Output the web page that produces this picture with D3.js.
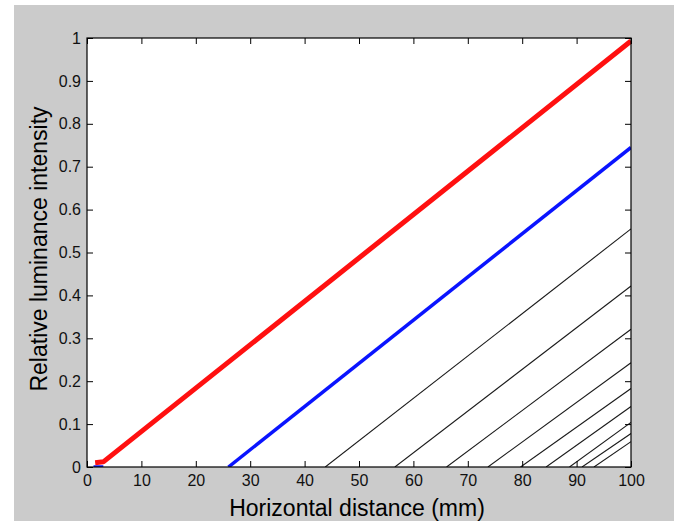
<!DOCTYPE html>
<html lang="en">
<head>
    <meta charset="UTF-8">
    <title>Relative luminance intensity</title>
    <script src="https://cdnjs.cloudflare.com/ajax/libs/d3/7.8.5/d3.min.js"></script>
    <style>
        body { margin: 0; background: #ffffff; }
        svg { display: block; }
        .tick text { font-family: Arial, "Liberation Sans", sans-serif; font-size: 16px; fill: #111; }
        .tick line { stroke: #000; }
        .title { font-family: Arial, "Liberation Sans", sans-serif; font-size: 23px; fill: #000; }
    </style>
</head>
<body>
    <svg id="chart" width="674" height="521"></svg>

    <script>
        // Chart data
        const xTicks = [0, 10, 20, 30, 40, 50, 60, 70, 80, 90, 100];
        const yTicks = [0, 0.1, 0.2, 0.3, 0.4, 0.5, 0.6, 0.7, 0.8, 0.9, 1];

        // red curve (x, y)
        const redX = [1.5, 3, 100];
        const redY = [0.01, 0.012, 0.993];

        // blue curve, plus the tiny stub at the origin
        const blueX = [26, 100];
        const blueY = [0, 0.745];
        const blueStubX = [1.2, 3];
        const blueStubY = [0, 0];

        // black lines: start on the x axis, end on the right edge
        const blackStartX = [43.8, 56.6, 66.1, 73.7, 79.7, 84.4, 88.7, 91.0, 93.2];
        const blackEndY = [0.555, 0.422, 0.321, 0.243, 0.183, 0.141, 0.104, 0.078, 0.059];

        const svg = d3.select("#chart");
        const margin = { left: 87, right: 43, top: 38, bottom: 54 };
        const width = 674 - margin.left - margin.right;
        const height = 521 - margin.top - margin.bottom;

        // figure background
        svg.append("rect")
            .attr("x", 14).attr("y", 5)
            .attr("width", 660).attr("height", 516)
            .attr("fill", "#cbcbcb");

        const g = svg.append("g")
            .attr("transform", `translate(${margin.left},${margin.top})`);

        const x = d3.scaleLinear().domain([0, 100]).range([0, width]);
        const y = d3.scaleLinear().domain([0, 1]).range([height, 0]);

        g.append("rect")
            .attr("width", width).attr("height", height)
            .attr("fill", "#fff");

        g.append("clipPath").attr("id", "clip")
            .append("rect").attr("x", -3).attr("y", -3)
            .attr("width", width + 3).attr("height", height + 3);

        const line = d3.line().x(d => x(d[0])).y(d => y(d[1]));
        const plot = g.append("g").attr("clip-path", "url(#clip)");

        // black family of lines
        plot.selectAll(".black")
            .data(blackStartX.map((s, i) => [[s, 0], [100, blackEndY[i]]]))
            .enter()
            .append("path")
            .attr("class", "black")
            .attr("d", line)
            .attr("fill", "none")
            .attr("stroke", "#1a1a1a")
            .attr("stroke-width", 1.1);

        plot.append("path")
            .attr("d", line(blueStubX.map((v, i) => [v, blueStubY[i]])))
            .attr("fill", "none").attr("stroke", "#0a14ff").attr("stroke-width", 3.5);

        plot.append("path")
            .attr("d", line(blueX.map((v, i) => [v, blueY[i]])))
            .attr("fill", "none").attr("stroke", "#0a14ff").attr("stroke-width", 3.5);

        plot.append("path")
            .attr("d", line(redX.map((v, i) => [v, redY[i]])))
            .attr("fill", "none").attr("stroke", "#ff1010").attr("stroke-width", 5)
            .attr("stroke-linejoin", "round");

        // axes, ticks pointing inward on all four sides
        const fmt = d => String(+d.toFixed(1));

        g.append("g")
            .attr("transform", `translate(0,${height})`)
            .call(d3.axisBottom(x).tickValues(xTicks).tickSize(-6).tickPadding(8))
            .call(a => a.select(".domain").remove());

        g.append("g")
            .call(d3.axisLeft(y).tickValues(yTicks).tickSize(-6).tickPadding(6).tickFormat(fmt))
            .call(a => a.select(".domain").remove());

        g.append("g")
            .call(d3.axisTop(x).tickValues(xTicks).tickSize(-6).tickFormat(""))
            .call(a => a.select(".domain").remove());

        g.append("g")
            .attr("transform", `translate(${width},0)`)
            .call(d3.axisRight(y).tickValues(yTicks).tickSize(-6).tickFormat(""))
            .call(a => a.select(".domain").remove());

        g.append("rect")
            .attr("width", width).attr("height", height)
            .attr("fill", "none").attr("stroke", "#000").attr("stroke-width", 1.2);

        // axis titles
        svg.append("text")
            .attr("class", "title")
            .attr("x", 357).attr("y", 516)
            .attr("text-anchor", "middle")
            .text("Horizontal distance (mm)");

        svg.append("text")
            .attr("class", "title")
            .attr("transform", "translate(47,249) rotate(-90)")
            .attr("text-anchor", "middle")
            .text("Relative luminance intensity");
    </script>
</body>
</html>
